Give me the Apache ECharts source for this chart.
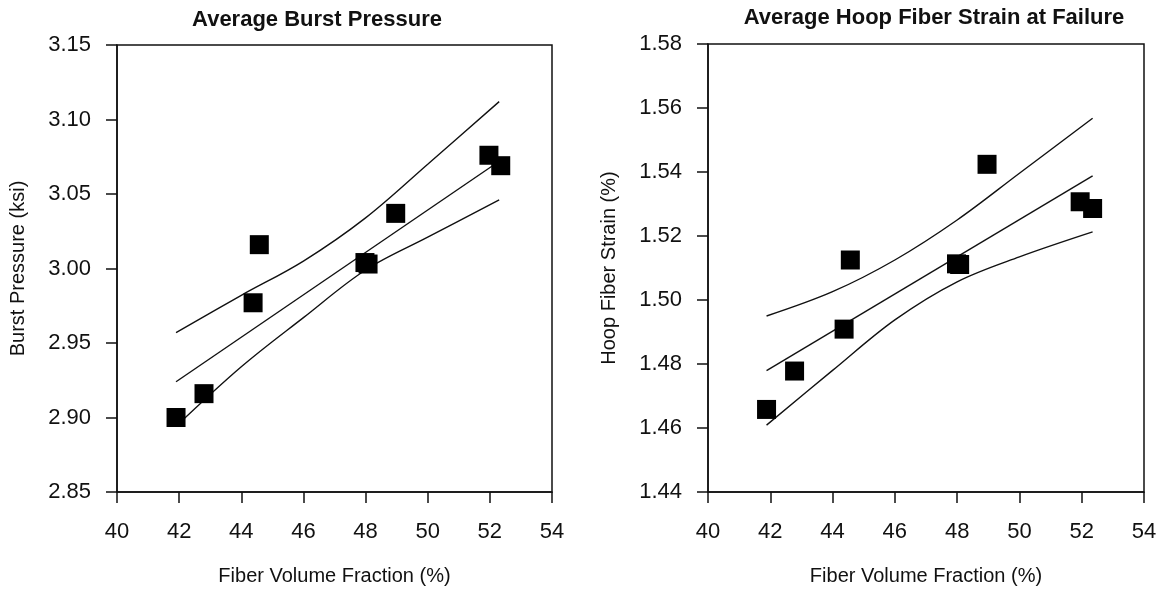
<!DOCTYPE html>
<html>
<head>
<meta charset="utf-8">
<script src="https://cdn.jsdelivr.net/npm/echarts@6/dist/echarts.min.js"></script>
<style>html,body{margin:0;padding:0;background:#fff}#c{width:1161px;height:593px}</style>
</head>
<body>
<div id="c"></div>
<script>
// ---- Data ----
const xTicks = [40, 42, 44, 46, 48, 50, 52, 54];

// Left: Average Burst Pressure (ksi)
const burstX = [41.9, 42.8, 44.38, 44.58, 47.98, 48.08, 48.97, 51.97, 52.35];
const burstY = [2.900, 2.916, 2.977, 3.016, 3.004, 3.003, 3.037, 3.076, 3.069];
const burstBandX = [41.9, 44, 46, 48, 50, 52.3];
const burstUpper = [2.957, 2.982, 3.005, 3.034, 3.070, 3.112];
const burstLower = [2.894, 2.934, 2.967, 2.999, 3.021, 3.046];
const burstFitX = [41.9, 52.3];
const burstFit = [2.924, 3.072];

// Right: Average Hoop Fiber Strain at Failure (%)
const strainX = [41.88, 42.78, 44.37, 44.57, 47.98, 48.08, 48.96, 51.95, 52.35];
const strainY = [1.4658, 1.4778, 1.4909, 1.5125, 1.5113, 1.5111, 1.5424, 1.5307, 1.5286];
const strainBandX = [41.88, 44, 46, 48, 50, 52.35];
const strainUpper = [1.4950, 1.5026, 1.5125, 1.5250, 1.5396, 1.5568];
const strainLower = [1.4609, 1.4780, 1.4938, 1.5057, 1.5135, 1.5213];
const strainFitX = [41.88, 52.35];
const strainFit = [1.4779, 1.5388];

const titles = ['Average Burst Pressure', 'Average Hoop Fiber Strain at Failure'];
const xName = 'Fiber Volume Fraction (%)';
const yNames = ['Burst Pressure (ksi)', 'Hoop Fiber Strain (%)'];

// ---- Chart ----
const zip = (xs, ys) => xs.map((x, i) => [x, ys[i]]);
const FONT = 'Liberation Sans, Arial, sans-serif';
const INK = '#111';

function xAxisCfg(gi) {
  return {
    type: 'value', gridIndex: gi, min: xTicks[0], max: xTicks[xTicks.length - 1], interval: 2,
    name: xName, nameLocation: 'middle', nameGap: 74,
    nameTextStyle: { fontFamily: FONT, fontSize: 20, color: INK },
    axisLine: { show: true, lineStyle: { color: INK, width: 1.5 } },
    axisTick: { show: true, inside: false, length: 11, lineStyle: { color: INK, width: 1.5 } },
    axisLabel: { fontFamily: FONT, fontSize: 22, color: INK, margin: 29 },
    splitLine: { show: false }
  };
}
function yAxisCfg(gi, min, max, interval, name) {
  return {
    type: 'value', gridIndex: gi, min: min, max: max, interval: interval,
    name: name, nameLocation: 'middle', nameGap: 89, nameRotate: 90,
    nameTextStyle: { fontFamily: FONT, fontSize: 20, color: INK },
    axisLine: { show: true, lineStyle: { color: INK, width: 1.5 } },
    axisTick: { show: true, inside: false, length: 11, lineStyle: { color: INK, width: 1.5 } },
    axisLabel: { fontFamily: FONT, fontSize: 22, color: INK, margin: 26,
                 formatter: v => v.toFixed(2) },
    splitLine: { show: false }
  };
}
function lineSeries(xi, data, smooth) {
  return {
    type: 'line', xAxisIndex: xi, yAxisIndex: xi, data: data,
    smooth: smooth ? 0.35 : false, showSymbol: false, symbol: 'none',
    lineStyle: { color: INK, width: 1.4 }, silent: true, z: 2
  };
}
function pointSeries(xi, data) {
  return {
    type: 'scatter', xAxisIndex: xi, yAxisIndex: xi, data: data,
    symbol: 'rect', symbolSize: 19, itemStyle: { color: '#000', opacity: 1 }, z: 3
  };
}

const chart = echarts.init(document.getElementById('c'), null, { renderer: 'canvas' });
chart.setOption({
  animation: false,
  backgroundColor: '#fff',
  title: [
    { text: titles[0], left: 312, top: 4, textAlign: 'center',
      textStyle: { fontFamily: FONT, fontSize: 22, fontWeight: 'bold', color: INK } },
    { text: titles[1], left: 929, top: 2, textAlign: 'center',
      textStyle: { fontFamily: FONT, fontSize: 22, fontWeight: 'bold', color: INK } }
  ],
  grid: [
    { left: 117, top: 45, width: 435, height: 447, show: true, borderColor: INK, borderWidth: 1.5, backgroundColor: 'transparent' },
    { left: 708, top: 44, width: 436, height: 448, show: true, borderColor: INK, borderWidth: 1.5, backgroundColor: 'transparent' }
  ],
  xAxis: [xAxisCfg(0), xAxisCfg(1)],
  yAxis: [
    yAxisCfg(0, 2.85, 3.15, 0.05, yNames[0]),
    yAxisCfg(1, 1.44, 1.58, 0.02, yNames[1])
  ],
  series: [
    lineSeries(0, zip(burstBandX, burstUpper), true),
    lineSeries(0, zip(burstBandX, burstLower), true),
    lineSeries(0, zip(burstFitX, burstFit), false),
    pointSeries(0, zip(burstX, burstY)),
    lineSeries(1, zip(strainBandX, strainUpper), true),
    lineSeries(1, zip(strainBandX, strainLower), true),
    lineSeries(1, zip(strainFitX, strainFit), false),
    pointSeries(1, zip(strainX, strainY))
  ]
});
</script>
</body>
</html>
